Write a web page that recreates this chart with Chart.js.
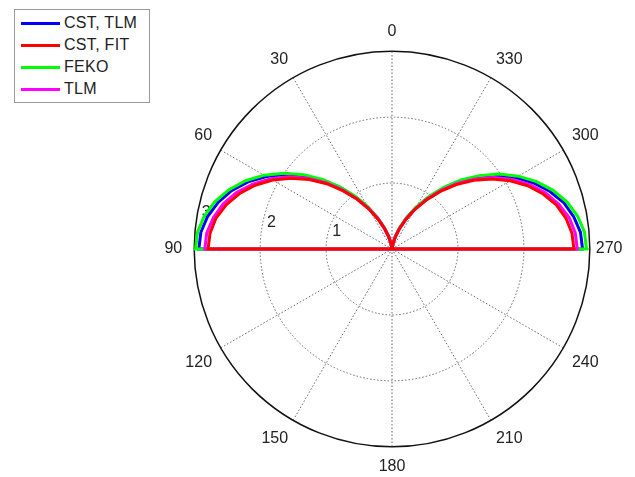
<!DOCTYPE html>
<html>
<head>
<meta charset="utf-8">
<script src="https://cdn.jsdelivr.net/npm/chart.js@4.4.1/dist/chart.umd.min.js"></script>
<style>
  html, body { margin: 0; padding: 0; background: #fff; overflow: hidden; }
  #wrap { position: relative; width: 635px; height: 477px; }
  #legend {
    position: absolute; left: 14px; top: 9px; width: 134px; height: 90px;
    padding-top: 2px; border: 1px solid #999; background: #fff;
  }
  .item { height: 22px; display: flex; align-items: center;
    font: 16px "Liberation Sans", Arial, sans-serif; color: #222; letter-spacing: 0.3px; }
  .swatch { width: 39px; height: 3px; margin-left: 6px; margin-right: 4px; }
</style>
</head>
<body>
<div id="wrap">
  <canvas id="polar" width="635" height="477"></canvas>
  <div id="legend"></div>
</div>
<script>
// polar angle in degrees, counter-clockwise from the top (0, 5, ... 355)
const angles = [0, 5, 10, 15, 20, 25, 30, 35, 40, 45, 50, 55, 60, 65, 70, 75, 80, 85,
  90, 95, 100, 105, 110, 115, 120, 125, 130, 135, 140, 145, 150, 155, 160, 165, 170, 175,
  180, 185, 190, 195, 200, 205, 210, 215, 220, 225, 230, 235, 240, 245, 250, 255, 260, 265,
  270, 275, 280, 285, 290, 295, 300, 305, 310, 315, 320, 325, 330, 335, 340, 345, 350, 355];

const cstTlm = [0, 0.02, 0.09, 0.20, 0.34, 0.52, 0.73, 0.96, 1.21, 1.47, 1.72, 1.97, 2.20, 2.41, 2.59, 2.73, 2.84, 2.91,
  2.93, 0, 0, 0, 0, 0, 0, 0, 0, 0, 0, 0, 0, 0, 0, 0, 0, 0,
  0, 0, 0, 0, 0, 0, 0, 0, 0, 0, 0, 0, 0, 0, 0, 0, 0, 0,
  2.89, 2.87, 2.80, 2.70, 2.55, 2.37, 2.17, 1.94, 1.70, 1.45, 1.19, 0.95, 0.72, 0.52, 0.34, 0.19, 0.09, 0.02];

const cstFit = [0, 0.02, 0.08, 0.19, 0.33, 0.50, 0.70, 0.92, 1.15, 1.40, 1.64, 1.87, 2.09, 2.29, 2.46, 2.60, 2.71, 2.77,
  2.79, 0, 0, 0, 0, 0, 0, 0, 0, 0, 0, 0, 0, 0, 0, 0, 0, 0,
  0, 0, 0, 0, 0, 0, 0, 0, 0, 0, 0, 0, 0, 0, 0, 0, 0, 0,
  2.76, 2.74, 2.68, 2.58, 2.44, 2.27, 2.07, 1.85, 1.62, 1.38, 1.14, 0.91, 0.69, 0.49, 0.32, 0.18, 0.08, 0.02];

const feko = [0, 0.02, 0.09, 0.20, 0.35, 0.53, 0.75, 0.98, 1.23, 1.49, 1.75, 2.00, 2.24, 2.45, 2.63, 2.78, 2.89, 2.96,
  2.98, 0, 0, 0, 0, 0, 0, 0, 0, 0, 0, 0, 0, 0, 0, 0, 0, 0,
  0, 0, 0, 0, 0, 0, 0, 0, 0, 0, 0, 0, 0, 0, 0, 0, 0, 0,
  2.95, 2.93, 2.86, 2.75, 2.60, 2.42, 2.21, 1.98, 1.73, 1.48, 1.22, 0.97, 0.74, 0.53, 0.35, 0.20, 0.09, 0.02];

const tlm = [0, 0.02, 0.09, 0.19, 0.33, 0.51, 0.71, 0.93, 1.17, 1.42, 1.67, 1.91, 2.13, 2.33, 2.51, 2.65, 2.75, 2.82,
  2.84, 0, 0, 0, 0, 0, 0, 0, 0, 0, 0, 0, 0, 0, 0, 0, 0, 0,
  0, 0, 0, 0, 0, 0, 0, 0, 0, 0, 0, 0, 0, 0, 0, 0, 0, 0,
  2.81, 2.79, 2.73, 2.62, 2.48, 2.31, 2.11, 1.89, 1.65, 1.41, 1.16, 0.92, 0.70, 0.50, 0.33, 0.19, 0.08, 0.02];

const radiusTicks = [1, 2, 3];

// radar goes clockwise, the plot goes counter-clockwise
const cw = arr => arr.map((v, i) => arr[(arr.length - i) % arr.length]);

const FONT = '"Liberation Sans", Arial, sans-serif';

const ringLabels = {
  id: 'ringLabels',
  beforeDatasetsDraw(chart) {
    const r = chart.scales.r;
    const a = 8 * Math.PI / 180;
    const ctx = chart.ctx;
    ctx.save();
    ctx.font = '16px ' + FONT;
    ctx.fillStyle = '#222';
    ctx.textAlign = 'left';
    ctx.textBaseline = 'bottom';
    radiusTicks.forEach(v => {
      const d = r.getDistanceFromCenterForValue(v + 0.05);
      ctx.fillText('  ' + v, r.xCenter - d * Math.cos(a), r.yCenter - d * Math.sin(a));
    });
    ctx.restore();
  }
};

const chart = new Chart(document.getElementById('polar'), {
  type: 'radar',
  data: {
    labels: cw(angles),
    datasets: [
      { label: 'CST, TLM', data: cw(cstTlm), borderColor: '#0000ff', order: 3 },
      { label: 'CST, FIT', data: cw(cstFit), borderColor: '#ff0000', order: 0 },
      { label: 'FEKO', data: cw(feko), borderColor: '#00ff00', order: 2 },
      { label: 'TLM', data: cw(tlm), borderColor: '#ff00ff', order: 1 }
    ]
  },
  options: {
    responsive: false,
    animation: false,
    layout: { padding: { left: 153, right: 0, top: 22, bottom: 1 } },
    elements: {
      line: { borderWidth: 3, fill: false, tension: 0, backgroundColor: 'transparent' },
      point: { radius: 0, hoverRadius: 0 }
    },
    plugins: { legend: { display: false }, tooltip: { enabled: false } },
    scales: {
      r: {
        min: 0,
        max: 3,
        ticks: { display: false, stepSize: 1 },
        grid: {
          circular: true,
          color: ctx => ctx.tick && ctx.tick.value === 3 ? '#111' : '#666',
          lineWidth: ctx => ctx.tick && ctx.tick.value === 3 ? 1.5 : 1
        },
        border: { dash: ctx => ctx.tick && ctx.tick.value === 3 ? [] : [1.5, 2] },
        angleLines: {
          color: '#666',
          lineWidth: ctx => ctx.index % 6 === 0 ? 1 : 0,
          borderDash: [1.5, 2]
        },
        pointLabels: {
          callback: label => label % 30 === 0 ? String(label) : '',
          font: { size: 16, family: FONT },
          color: '#222',
          padding: ctx => ctx.index === 54 ? 12 : ctx.index === 18 ? 6 : 10
        }
      }
    }
  },
  plugins: [ringLabels]
});

// legend box built from the datasets
const legend = document.getElementById('legend');
chart.data.datasets.forEach(ds => {
  const item = document.createElement('div');
  item.className = 'item';
  const sw = document.createElement('span');
  sw.className = 'swatch';
  sw.style.background = ds.borderColor;
  item.appendChild(sw);
  item.appendChild(document.createTextNode(ds.label));
  legend.appendChild(item);
});
</script>
</body>
</html>
